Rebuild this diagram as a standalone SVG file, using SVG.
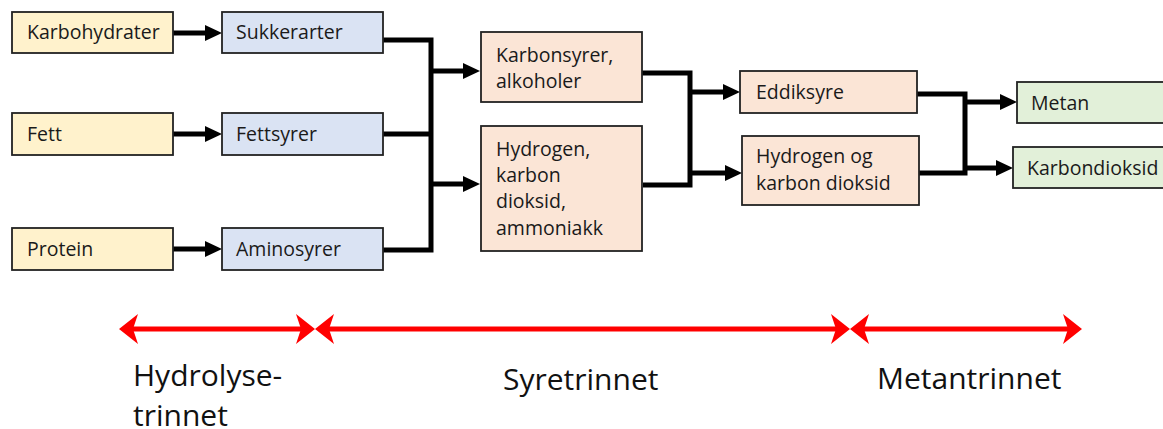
<svg xmlns="http://www.w3.org/2000/svg" width="1163" height="429" viewBox="0 0 1163 429">
  <defs>
    <marker id="ah" markerUnits="userSpaceOnUse" markerWidth="17" markerHeight="16" refX="3" refY="8" orient="auto">
      <path d="M0,0 L17,8 L0,16 Z" fill="#000"/>
    </marker>
    <marker id="rh" markerUnits="userSpaceOnUse" markerWidth="20" markerHeight="32" refX="8" refY="16" orient="auto-start-reverse">
      <path d="M20,16 L1,1 L6,16 L1,31 Z" fill="#ff0000"/>
    </marker>
    <style>
      .box { stroke: #222; stroke-width: 1.8; }
      .y { fill: #fff2cc; }
      .b { fill: #dae3f3; }
      .p { fill: #fbe5d6; }
      .g { fill: #e2f0d9; }
      .t { font-family: "Open Sans", "Liberation Sans", sans-serif; font-size: 19.5px; fill: #1a1a1a; }
      .big { font-family: "Open Sans", "Liberation Sans", sans-serif; font-size: 30px; fill: #111; }
      .c { fill: none; stroke: #000; stroke-width: 5; stroke-linejoin: miter; }
      .ca { fill: none; stroke: #000; stroke-width: 5; marker-end: url(#ah); }
      .r { fill: none; stroke: #ff0000; stroke-width: 5; marker-start: url(#rh); marker-end: url(#rh); }
    </style>
  </defs>

  <g id="connectors">
    <path class="ca" d="M173,33 H208"/>
    <path class="ca" d="M173,134 H208"/>
    <path class="ca" d="M173,249 H208"/>
    <path class="c" d="M383,40 H431 V250 H383"/>
    <path class="c" d="M383,134 H431"/>
    <path class="ca" d="M431,71 H466"/>
    <path class="ca" d="M431,184 H466"/>
    <path class="c" d="M642,73 H690 V185 H643"/>
    <path class="ca" d="M690,92 H726"/>
    <path class="ca" d="M690,173 H728"/>
    <path class="c" d="M917,94 H965 V173 H919"/>
    <path class="ca" d="M967,102 H1003"/>
    <path class="ca" d="M967,168 H999"/>
  </g>

  <g id="n-karbohydrater"><rect class="box y" x="12" y="12" width="161" height="41"/><text class="t" x="27" y="39">Karbohydrater</text></g>
  <g id="n-fett"><rect class="box y" x="12" y="113" width="161" height="42"/><text class="t" x="27" y="141">Fett</text></g>
  <g id="n-protein"><rect class="box y" x="12" y="228" width="161" height="42"/><text class="t" x="27" y="256">Protein</text></g>

  <g id="n-sukkerarter"><rect class="box b" x="222" y="12" width="161" height="41"/><text class="t" x="236" y="39">Sukkerarter</text></g>
  <g id="n-fettsyrer"><rect class="box b" x="222" y="113" width="161" height="42"/><text class="t" x="236" y="141">Fettsyrer</text></g>
  <g id="n-aminosyrer"><rect class="box b" x="222" y="228" width="161" height="42"/><text class="t" x="236" y="256">Aminosyrer</text></g>

  <g id="n-karbonsyrer"><rect class="box p" x="481" y="32" width="161" height="70"/><text class="t" x="496" y="62">Karbonsyrer,</text><text class="t" x="496" y="88">alkoholer</text></g>
  <g id="n-hydrogen"><rect class="box p" x="481" y="126" width="161" height="125"/><text class="t" x="496" y="156">Hydrogen,</text><text class="t" x="496" y="182">karbon</text><text class="t" x="496" y="208">dioksid,</text><text class="t" x="496" y="235">ammoniakk</text></g>

  <g id="n-eddiksyre"><rect class="box p" x="740" y="71" width="177" height="42"/><text class="t" x="756" y="99">Eddiksyre</text></g>
  <g id="n-hydrogen-og"><rect class="box p" x="742" y="136" width="177" height="69"/><text class="t" x="756" y="163">Hydrogen og</text><text class="t" x="756" y="190">karbon dioksid</text></g>

  <g id="n-metan"><rect class="box g" x="1017" y="82" width="160" height="41"/><text class="t" x="1031" y="110">Metan</text></g>
  <g id="n-karbondioksid"><rect class="box g" x="1013" y="147" width="165" height="41"/><text class="t" x="1027" y="175">Karbondioksid</text></g>

  <g id="stages">
    <path class="r" d="M131,329 H303"/>
    <path class="r" d="M327,329 H838"/>
    <path class="r" d="M862,329 H1070"/>
    <text class="big" x="133" y="386">Hydrolyse-</text>
    <text class="big" x="133" y="426">trinnet</text>
    <text class="big" x="503" y="390">Syretrinnet</text>
    <text class="big" x="877" y="389">Metantrinnet</text>
  </g>
</svg>
